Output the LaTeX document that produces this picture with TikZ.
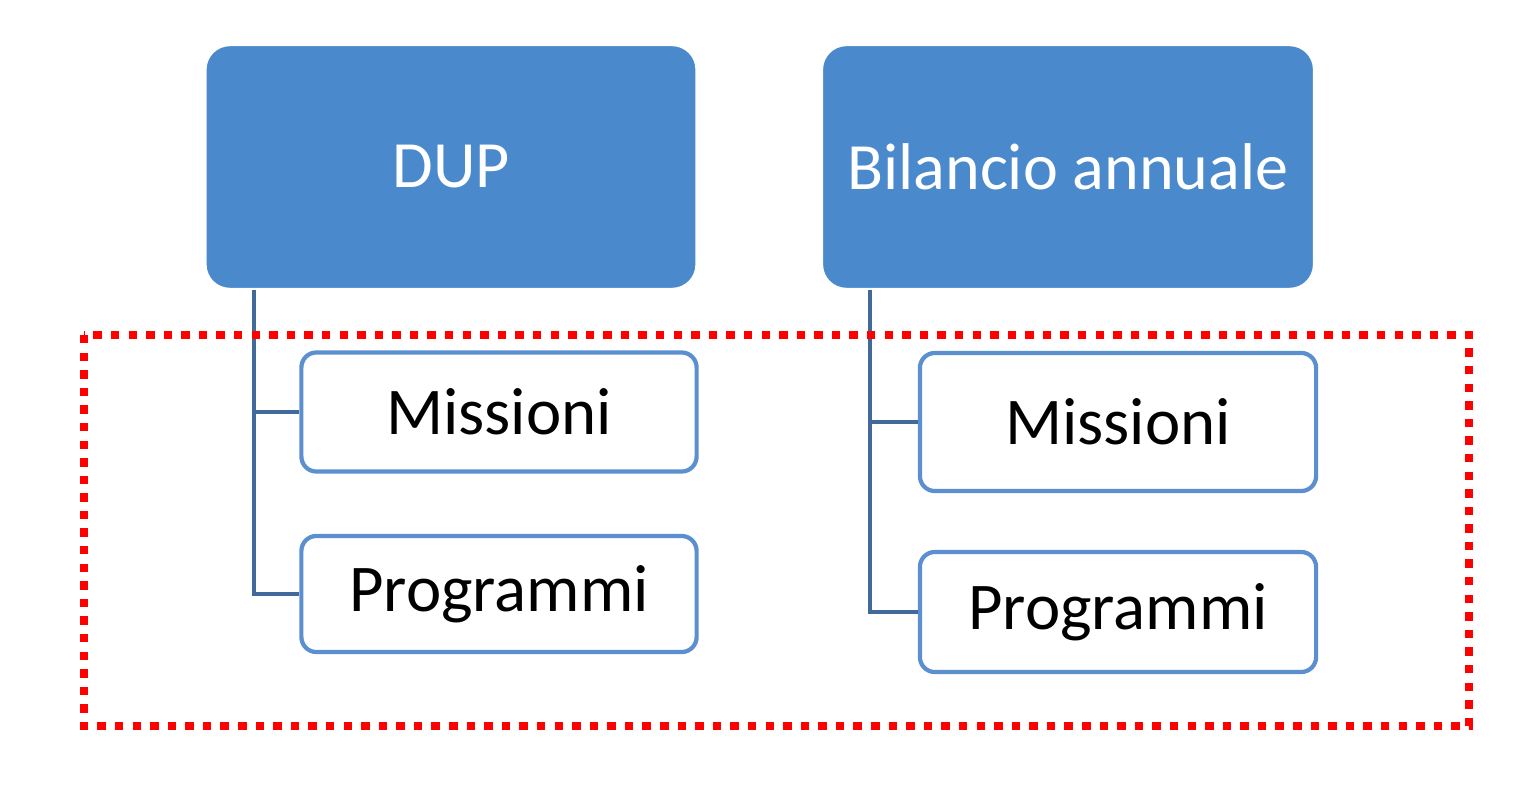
\documentclass[tikz,border=0pt]{standalone}
\usepackage{fontspec}
\setmainfont{Carlito}
\begin{document}
\begin{tikzpicture}[x=0.01cm,y=-0.01cm,
 top/.style={draw=white,line width=1pt,fill=topblue,rounded corners=0.25cm,text=white,font=\fontsize{18.8}{22}\selectfont},
 child/.style={draw=childblue,line width=1.2pt,fill=white,rounded corners=0.15cm,font=\fontsize{19}{23}\selectfont},
 conn/.style={draw=connblue,line width=0.9pt}]
\definecolor{topblue}{HTML}{4A89CC}
\definecolor{childblue}{HTML}{5B8FCF}
\definecolor{connblue}{HTML}{41699A}
\useasboundingbox (0,0) rectangle (1515,809);
\node[top,minimum width=4.92cm,minimum height=2.45cm] (dup) at (451,167) {DUP};
\node[top,minimum width=4.93cm,minimum height=2.45cm] (bil) at (1068,167) {Bilancio annuale};
\node[child,minimum width=3.95cm,minimum height=1.19cm] (m1) at (499,412) {Missioni};
\node[child,minimum width=3.95cm,minimum height=1.16cm] (p1) at (499,594) {Programmi};
\node[child,minimum width=3.96cm,minimum height=1.38cm] (m2) at (1118,422) {Missioni};
\node[child,minimum width=3.96cm,minimum height=1.20cm] (p2) at (1118,612) {Programmi};
\coordinate (a1) at (254,290);
\coordinate (a2) at (870,290);
\draw[conn] (a1) |- (m1.west);
\draw[conn] (a1) |- (p1.west);
\draw[conn] (a2) |- (m2.west);
\draw[conn] (a2) |- (p2.west);
\draw[red,line width=2.4pt,dash pattern=on 2.4pt off 2.6pt] (84,335) rectangle (1469,726);
\end{tikzpicture}
\end{document}
